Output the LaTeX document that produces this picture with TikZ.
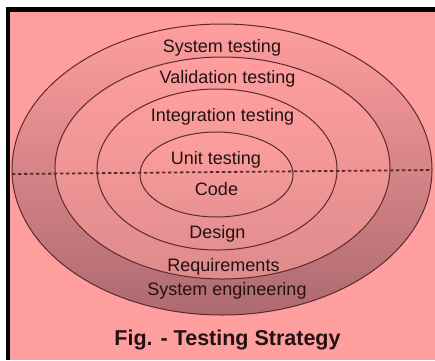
\documentclass[tikz,border=0pt]{standalone}
\usepackage{fontspec}
\setmainfont{Liberation Sans}
\begin{document}
\begin{tikzpicture}[x=1pt,y=-1pt,
  ring/.style={draw=ringline, line width=1pt},
  lbl/.style={text=ink, font=\fontsize{18}{20}\selectfont, anchor=base, inner sep=0pt},
  ttl/.style={text=ink, font=\fontsize{21.5}{24}\selectfont\bfseries, anchor=base, inner sep=0pt}]
  \definecolor{bgpink}{RGB}{255,158,158}
  \definecolor{ringline}{RGB}{92,42,42}
  \definecolor{ink}{RGB}{34,18,18}
  \definecolor{shadeAm}{RGB}{208,129,132}
  \definecolor{shadeA}{RGB}{172,106,112}
  \definecolor{shadeB}{RGB}{222,139,140}
  \definecolor{shadeC}{RGB}{228,143,144}
  \definecolor{shadeD}{RGB}{232,146,146}

  % canvas and frame
  \fill[white] (0,0) rectangle (435,360);
  \useasboundingbox (0,0) rectangle (435,360);
  \fill[bgpink] (8,9.5) rectangle (435,360);
  \draw[black, line width=4pt] (8,7) -- (8,360);
  \draw[black, line width=5pt] (6,9.5) -- (435,9.5);

  % nested ellipses, outermost first
  \draw[ring, top color=bgpink, middle color=shadeAm, bottom color=shadeA] (222,169.5) ellipse [x radius=210pt, y radius=145.5pt];
  \draw[ring, top color=bgpink, bottom color=shadeB] (222.5,168) ellipse [x radius=167.5pt, y radius=111pt];
  \draw[ring, top color=bgpink, bottom color=shadeC] (217,169.5) ellipse [x radius=120pt, y radius=80.5pt];
  \draw[ring, top color=bgpink, bottom color=shadeD] (216.5,174.5) ellipse [x radius=76.5pt, y radius=42.5pt];

  % dividing dashed line
  \coordinate (dl) at (12,174);
  \coordinate (dr) at (432,170);
  \draw[ringline, line width=1.8pt, dash pattern=on 3.3pt off 2.7pt] (dl) -- (dr);

  % labels
  \node[lbl] (systest) at (222,52) {System testing};
  \node[lbl] (valtest) at (227.5,83) {Validation testing};
  \node[lbl] (inttest) at (222.5,121) {Integration testing};
  \node[lbl] (unittest) at (216,164) {Unit testing};
  \node[lbl] (code) at (216.5,195) {Code};
  \node[lbl] (design) at (217.5,238) {Design};
  \node[lbl] (req) at (223.5,271) {Requirements};
  \node[lbl] (syseng) at (227,295) {System engineering};
  \node[ttl] (title) at (227.5,345) {Fig. - Testing Strategy};
\end{tikzpicture}
\end{document}
